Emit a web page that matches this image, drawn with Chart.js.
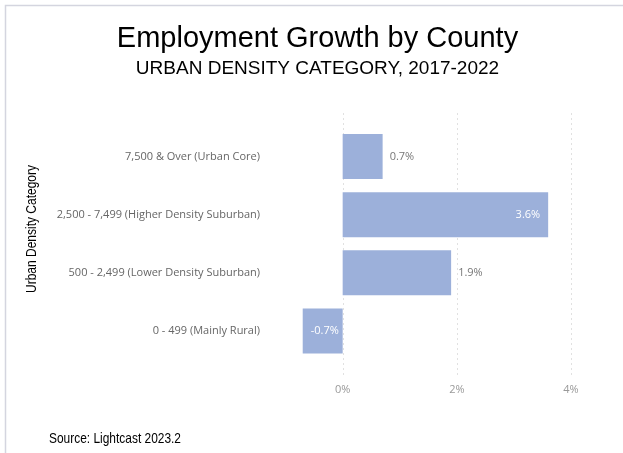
<!DOCTYPE html>
<html><head><meta charset="utf-8">
<script src="https://cdn.jsdelivr.net/npm/chart.js@4.4.1/dist/chart.umd.min.js"></script>
<style>html,body{margin:0;padding:0;background:#fff;} canvas{display:block;}</style>
</head><body>
<canvas id="c" width="623" height="453"></canvas>
<script>
const categories = ['7,500 & Over (Urban Core)', '2,500 - 7,499 (Higher Density Suburban)', '500 - 2,499 (Lower Density Suburban)', '0 - 499 (Mainly Rural)'];
const growthPct = [0.7, 3.6, 1.9, -0.7];
const xTicks = [0, 2, 4];
const chartTitle = 'Employment Growth by County';
const chartSubtitle = 'URBAN DENSITY CATEGORY, 2017-2022';
const axisTitle = 'Urban Density Category';
const sourceNote = 'Source: Lightcast 2023.2';

const narrowFont = "'Liberation Sans Narrow', 'Arial Narrow', 'Liberation Sans', Arial, sans-serif";
const uiFont = "'Open Sans', 'Noto Sans', sans-serif";

function fitText(ctx, text, x, y, target) {
  const w = ctx.measureText(text).width;
  const s = w > target * 1.04 ? target / w : 1;
  ctx.save();
  ctx.translate(x, y);
  ctx.scale(s, 1);
  ctx.fillText(text, 0, 0);
  ctx.restore();
}

const decorPlugin = {
  id: 'decor',
  beforeDraw(chart) {
    const ctx = chart.ctx;
    ctx.save();
    ctx.fillStyle = '#fff';
    ctx.fillRect(0, 0, chart.width, chart.height);
    ctx.strokeStyle = '#d4d5df';
    ctx.lineWidth = 1.5;
    ctx.beginPath();
    ctx.moveTo(5.5, chart.height);
    ctx.lineTo(5.5, 5.5);
    ctx.lineTo(chart.width, 5.5);
    ctx.stroke();
    ctx.fillStyle = '#000';
    ctx.textAlign = 'center';
    ctx.textBaseline = 'alphabetic';
    ctx.font = "29px 'Liberation Sans', Arial, sans-serif";
    ctx.fillText(chartTitle, 317.5, 47);
    ctx.font = "19px 'Liberation Sans', Arial, sans-serif";
    ctx.fillText(chartSubtitle, 317.5, 74);
    // axis title
    ctx.font = '14.5px ' + narrowFont;
    ctx.textBaseline = 'middle';
    ctx.save();
    ctx.translate(31.5, 229);
    ctx.rotate(-Math.PI / 2);
    fitText(ctx, axisTitle, 0, 0, 128);
    ctx.restore();
    // source
    ctx.textAlign = 'left';
    ctx.textBaseline = 'alphabetic';
    fitText(ctx, sourceNote, 49, 443, 132);
    ctx.restore();
  },
  beforeDatasetsDraw(chart) {
    const ctx = chart.ctx;
    const xs = chart.scales.x;
    const area = chart.chartArea;
    ctx.save();
    ctx.strokeStyle = '#c2c2c2';
    ctx.lineWidth = 1;
    ctx.setLineDash([1, 4]);
    xTicks.forEach(v => {
      const x = Math.round(xs.getPixelForValue(v)) + 0.5;
      ctx.beginPath();
      ctx.moveTo(x, area.top - 14);
      ctx.lineTo(x, area.bottom + 18);
      ctx.stroke();
    });
    ctx.restore();
  },
  afterDatasetsDraw(chart) {
    const ctx = chart.ctx;
    const area = chart.chartArea;
    const meta = chart.getDatasetMeta(0);
    ctx.save();
    ctx.font = '11px ' + uiFont;
    ctx.textBaseline = 'middle';
    meta.data.forEach((bar, i) => {
      const v = growthPct[i];
      const text = v.toFixed(1) + '%';
      const w = ctx.measureText(text).width;
      const gap = 7;
      const room = v >= 0 ? area.right - (bar.x + gap) : (bar.x - gap) - area.left;
      if (room >= w) {
        ctx.fillStyle = '#777';
        ctx.textAlign = v >= 0 ? 'left' : 'right';
        ctx.fillText(text, v >= 0 ? bar.x + gap : bar.x - gap, bar.y);
      } else {
        ctx.fillStyle = '#fff';
        ctx.textAlign = v >= 0 ? 'right' : 'left';
        ctx.fillText(text, v >= 0 ? bar.x - 8 : bar.x + 8, bar.y);
      }
    });
    ctx.restore();
  }
};

new Chart(document.getElementById('c'), {
  type: 'bar',
  data: {
    labels: categories,
    datasets: [{
      data: growthPct,
      backgroundColor: '#9cb0da',
      borderWidth: 0,
      barPercentage: 0.775,
      categoryPercentage: 1
    }]
  },
  options: {
    indexAxis: 'y',
    responsive: false,
    animation: false,
    devicePixelRatio: 1,
    layout: { padding: { left: 0, right: 52, top: 127.5, bottom: 0 } },
    plugins: { legend: { display: false }, tooltip: { enabled: false }, title: { display: false } },
    scales: {
      x: {
        type: 'linear',
        min: -0.8,
        max: 4,
        afterBuildTicks: s => { s.ticks = xTicks.map(v => ({ value: v })); },
        afterFit: s => { s.height = 93; },
        grid: { display: false, drawTicks: false },
        border: { display: false },
        ticks: {
          padding: 23,
          color: '#999',
          font: { family: uiFont, size: 11 },
          callback: v => v + '%',
          autoSkip: false,
          maxRotation: 0
        }
      },
      y: {
        type: 'category',
        afterFit: s => { s.width = 297; },
        grid: { display: false, drawTicks: false },
        border: { display: false },
        ticks: {
          padding: 37,
          color: '#666',
          font: { family: uiFont, size: 11 },
          autoSkip: false
        }
      }
    }
  },
  plugins: [decorPlugin]
});
</script>
</body></html>
